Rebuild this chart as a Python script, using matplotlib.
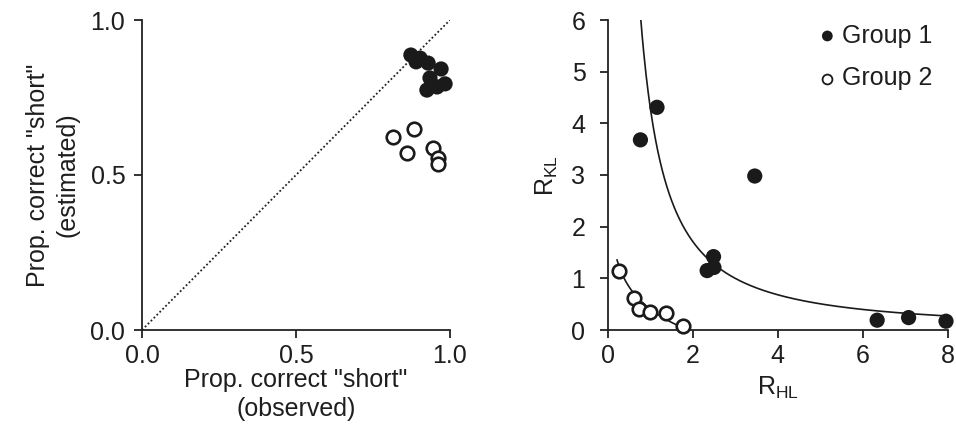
import numpy as np
import matplotlib
matplotlib.use("Agg")
import matplotlib.pyplot as plt

plt.rcParams['font.family'] = ['Liberation Sans', 'DejaVu Sans']
plt.rcParams['mathtext.fontset'] = 'custom'
plt.rcParams['mathtext.rm'] = 'Liberation Sans'
plt.rcParams['mathtext.it'] = 'Liberation Sans'

# Left panel: proportion correct "short"
g1_obs = [0.873, 0.903, 0.890, 0.929, 0.971, 0.935, 0.925, 0.958, 0.984]
g1_est = [0.887, 0.877, 0.865, 0.861, 0.842, 0.813, 0.774, 0.784, 0.794]
g2_obs = [0.815, 0.883, 0.860, 0.945, 0.961, 0.961]
g2_est = [0.623, 0.648, 0.571, 0.587, 0.555, 0.535]

# Right panel: R_HL vs R_KL
g1_rhl = [0.77, 1.16, 3.46, 2.49, 2.34, 2.50, 6.34, 7.08, 7.96]
g1_rkl = [3.68, 4.31, 2.98, 1.42, 1.15, 1.21, 0.19, 0.24, 0.17]
g2_rhl = [0.26, 0.62, 0.74, 1.00, 1.37, 1.78]
g2_rkl = [1.15, 0.61, 0.41, 0.35, 0.33, 0.08]

# fitted curves (parameters)
fit1_a, fit1_b = 4.31, -1.33          # y = a * x^b
fit2_a, fit2_b = 0.403, -0.629        # y = a + b * ln(x)

left_xticks = [0.0, 0.5, 1.0]
left_labels = ["0.0", "0.5", "1.0"]
right_xticks = [0, 2, 4, 6, 8]
right_yticks = [0, 1, 2, 3, 4, 5, 6]

FS = 18
TXT = '#1e1e1e'
W, H = 956, 446
fig = plt.figure(figsize=(W / 100, H / 100), dpi=100)

def style(ax):
    for s in ['top', 'right']:
        ax.spines[s].set_visible(False)
    for s in ['left', 'bottom']:
        ax.spines[s].set_linewidth(1.3)
        ax.spines[s].set_color('#222222')
    ax.tick_params(direction='out', length=6, width=1.3, labelsize=FS,
                   pad=4, colors='#222222', labelcolor=TXT)

ax1 = fig.add_axes([142 / W, (H - 330) / H, (450 - 142) / W, (330 - 20) / H])
style(ax1)
ax1.plot([0, 1], [0, 1], linestyle=(0, (1, 1.3)), color='#222222', lw=1.3)
ax1.scatter(g1_obs, g1_est, s=120, color='#1a1a1a', zorder=3, edgecolors='none',
            clip_on=False)
ax1.scatter(g2_obs, g2_est, s=95, facecolors='white', edgecolors='#1a1a1a',
            linewidths=1.9, zorder=3, clip_on=False)
ax1.set_xlim(0, 1)
ax1.set_ylim(0, 1)
ax1.set_xticks(left_xticks)
ax1.set_xticklabels(left_labels)
ax1.set_yticks(left_xticks)
ax1.set_yticklabels(left_labels)
ax1.tick_params(axis='y', pad=6)
ax1.set_xlabel('Prop. correct "short"\n(observed)', fontsize=FS, labelpad=0,
               linespacing=1.25, color=TXT)
ax1.set_ylabel('Prop. correct "short"\n(estimated)', fontsize=FS, labelpad=8,
               linespacing=1.3, color=TXT)

ax2 = fig.add_axes([607.7 / W, (H - 330) / H, (947.7 - 607.7) / W, (330 - 20) / H])
style(ax2)
x1 = np.linspace(0.7, 8, 400)
ax2.plot(x1, fit1_a * x1 ** fit1_b, color='#1a1a1a', lw=1.2)
x2 = np.linspace(0.22, 1.9, 200)
ax2.plot(x2, fit2_a + fit2_b * np.log(x2), color='#1a1a1a', lw=1.2)
ax2.scatter(g1_rhl, g1_rkl, s=120, color='#1a1a1a', zorder=3, edgecolors='none',
            clip_on=False)
ax2.scatter(g2_rhl, g2_rkl, s=95, facecolors='white', edgecolors='#1a1a1a',
            linewidths=1.9, zorder=3, clip_on=False)
ax2.set_xlim(0, 8)
ax2.set_ylim(0, 6)
ax2.set_xticks(right_xticks)
ax2.set_yticks(right_yticks)
ax2.tick_params(axis='y', pad=10)
ax2.set_xlabel(r'R$_{\mathrm{HL}}$', fontsize=FS, labelpad=5, color=TXT)
ax2.set_ylabel(r'R$_{\mathrm{KL}}$', fontsize=FS, labelpad=8, color=TXT)

h1 = ax2.scatter([], [], s=60, color='#1a1a1a', edgecolors='none')
h2 = ax2.scatter([], [], s=50, facecolors='white', edgecolors='#1a1a1a', linewidths=1.3)
ax2.legend([h1, h2], ['Group 1', 'Group 2'], loc='upper right',
           bbox_to_anchor=(1.0, 1.037), frameon=False, fontsize=FS,
           handletextpad=0.1, labelspacing=0.75, handlelength=1.0,
           borderaxespad=0.2, labelcolor=TXT)

fig.savefig('out.png', dpi=100)
